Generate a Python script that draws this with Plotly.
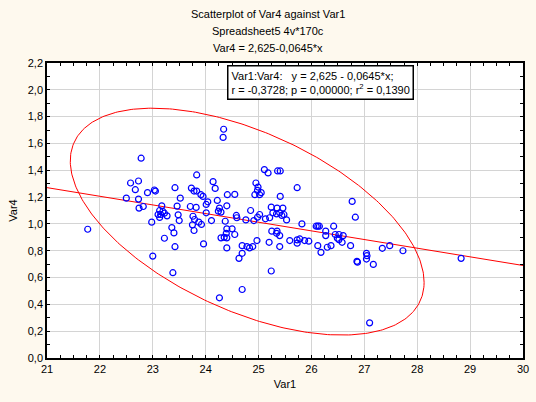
"""
Scatterplot of Var4 against Var1 with regression line and 95% ellipse.
"""
import numpy as np
import plotly.graph_objects as go

# Data
var1 = [
    21.77, 23.00,
    22.78, 23.83, 22.58, 22.73, 22.67, 22.90, 23.03, 23.05, 23.42, 23.73, 23.78, 23.83,
    23.91, 23.95, 23.52, 22.50, 22.73, 22.74, 22.82, 23.17, 23.46, 23.71, 23.82,
    23.13, 23.19, 23.10, 23.15, 23.22, 23.27, 23.13,
    22.98, 23.48, 23.50, 23.76, 23.79, 23.75, 23.87, 23.92, 23.36, 23.40, 23.78, 23.22,
    23.42, 23.38, 23.96,
    25.11, 25.18, 25.36, 25.41, 24.14, 24.18, 24.95, 24.99, 24.98, 24.93, 25.02, 25.05,
    25.73, 24.41, 24.55, 25.41, 24.01, 24.04, 24.22, 24.40, 24.26, 24.29, 24.24,
    24.58, 24.59, 24.01, 24.85, 25.24, 25.35, 25.46, 25.27, 25.34, 25.40, 25.44, 25.48,
    25.53, 25.02, 24.98, 25.13, 25.21, 24.76, 24.91, 24.37, 24.11,
    24.40, 24.50, 24.55, 24.39, 24.40, 24.35, 24.29, 24.97, 25.20,
    25.25, 25.35, 25.40, 25.34, 25.59, 25.73, 24.78, 24.89, 24.69, 25.40,
    24.40, 24.83, 24.69, 24.63, 25.73, 25.24, 24.69, 24.26,
    24.34, 24.33, 26.77, 26.83, 25.82,
    26.09, 26.12, 26.15, 26.42, 26.27, 26.27, 26.45, 26.52, 26.49, 26.52, 26.60,
    25.78, 25.87, 25.95, 26.12, 26.18, 26.30, 26.37, 26.58, 26.74, 26.86, 26.87,
    27.04, 27.05, 27.04, 27.17, 27.34, 27.48, 27.73, 28.83, 27.10,
]
var4 = [
    0.960, 0.760,
    1.490, 1.365, 1.305, 1.320, 1.255, 1.233, 1.253, 1.245, 1.270, 1.267, 1.245, 1.245,
    1.218, 1.205, 1.192, 1.192, 1.185, 1.118, 1.130, 1.135, 1.133, 1.130, 1.123,
    1.100, 1.093, 1.070, 1.070, 1.080, 1.060, 1.048,
    1.013, 1.068, 1.025, 1.057, 1.033, 0.993, 1.013, 0.996, 0.973, 0.933, 0.951, 0.893,
    0.830, 0.636, 0.851,
    1.405, 1.380, 1.395, 1.395, 1.315, 1.265, 1.305, 1.275, 1.250, 1.218, 1.218, 1.233,
    1.270, 1.218, 1.220, 1.205, 1.145, 1.165, 1.175, 1.135, 1.118, 1.088, 1.095,
    1.063, 1.046, 1.083, 1.100, 1.125, 1.118, 1.118, 1.083, 1.075, 1.083, 1.063, 1.070,
    1.030, 1.070, 1.050, 1.038, 1.046, 1.030, 1.025, 1.020, 1.025,
    0.963, 0.963, 0.921, 0.930, 0.896, 0.900, 0.896, 0.876, 0.863,
    0.946, 0.946, 0.913, 0.930, 0.876, 0.881, 0.831, 0.831, 0.838, 0.831,
    0.821, 0.821, 0.781, 0.743, 0.856, 0.649, 0.511, 0.449,
    1.706, 1.645, 1.168, 1.050, 1.000,
    0.983, 0.983, 0.983, 0.983, 0.946, 0.913, 0.921, 0.921, 0.893, 0.883, 0.913,
    0.888, 0.876, 0.871, 0.838, 0.788, 0.826, 0.838, 0.863, 0.838, 0.721, 0.715,
    0.781, 0.763, 0.738, 0.698, 0.818, 0.838, 0.800, 0.743, 0.262,
]

# Fit printed on the chart
intercept = 2.625
slope = -0.0645

# Ellipse as drawn on the chart: centre, half-extents along x and y, correlation
ellipse_center = [24.785, 1.017]
ellipse_extent = [3.345, 0.846]
ellipse_r = -0.535

x_range = [21, 30]
y_range = [0, 2.2]

BG = "#FEF9EE"
FONT = "Liberation Sans"

t = np.linspace(0, 2 * np.pi, 361)
ex = ellipse_center[0] + ellipse_extent[0] * np.cos(t)
ey = ellipse_center[1] + ellipse_extent[1] * (
    ellipse_r * np.cos(t) + np.sqrt(1 - ellipse_r ** 2) * np.sin(t)
)

lx = np.array(x_range, dtype=float)
ly = intercept + slope * lx

fig = go.Figure()
fig.add_trace(go.Scatter(x=ex, y=ey, mode="lines",
                         line=dict(color="red", width=1), hoverinfo="skip"))
fig.add_trace(go.Scatter(x=lx, y=ly, mode="lines",
                         line=dict(color="red", width=1), hoverinfo="skip"))
fig.add_trace(go.Scatter(x=var1, y=var4, mode="markers",
                         marker=dict(symbol="circle-open", size=6, color="blue",
                                     line=dict(width=1.2, color="blue"))))

axis_common = dict(
    showline=True, linecolor="black", linewidth=1.5, mirror="allticks",
    showgrid=True, gridcolor="#D4D4D4", gridwidth=1, zeroline=False,
    ticks="inside", ticklen=3, tickcolor="black", automargin=False,
    tickfont=dict(family=FONT, size=11, color="black"),
)
fig.update_xaxes(range=x_range, dtick=1, tick0=21,
                 minor=dict(dtick=0.25, ticks="inside", ticklen=3, tickcolor="black", showgrid=False),
                 title=dict(text="Var1", font=dict(family=FONT, size=11, color="black"), standoff=6),
                 **axis_common)
fig.update_yaxes(range=y_range, dtick=0.2, tick0=0, tickformat=".1f",
                 minor=dict(dtick=0.1, ticks="inside", ticklen=3, tickcolor="black", showgrid=False),
                 title=dict(text="Var4", font=dict(family=FONT, size=11, color="black"), standoff=8),
                 **axis_common)

title_lines = [
    "Scatterplot of Var4 against Var1",
    "Spreadsheet5 4v*170c",
    "Var4 = 2,625-0,0645*x",
]
for i, line in enumerate(title_lines):
    fig.add_annotation(text=line, xref="paper", yref="paper",
                       x=(268 - 46.7) / 476.6, y=1.165 - i * 0.057,
                       xanchor="center", yanchor="middle", showarrow=False,
                       font=dict(family=FONT, size=11, color="black"))

fig.add_annotation(
    text="Var1:Var4:   y = 2,625 - 0,0645*x;<br>r = -0,3728; p = 0,00000; r<sup>2</sup> = 0,1390",
    xref="paper", yref="paper", x=0.378, y=0.993, xanchor="left", yanchor="top",
    align="left", showarrow=False, bgcolor="white", bordercolor="black",
    borderwidth=1.5, borderpad=3,
    font=dict(family=FONT, size=11, color="black"),
)

fig.update_layout(
    width=536, height=402,
    margin=dict(l=47, r=13, t=63, b=44),
    paper_bgcolor=BG, plot_bgcolor="white",
    showlegend=False, separators=", ",
    font=dict(family=FONT, size=11, color="black"),
)

fig.write_html("out.html", config={"displayModeBar": False},
               post_script="document.body.style.margin='0';")
